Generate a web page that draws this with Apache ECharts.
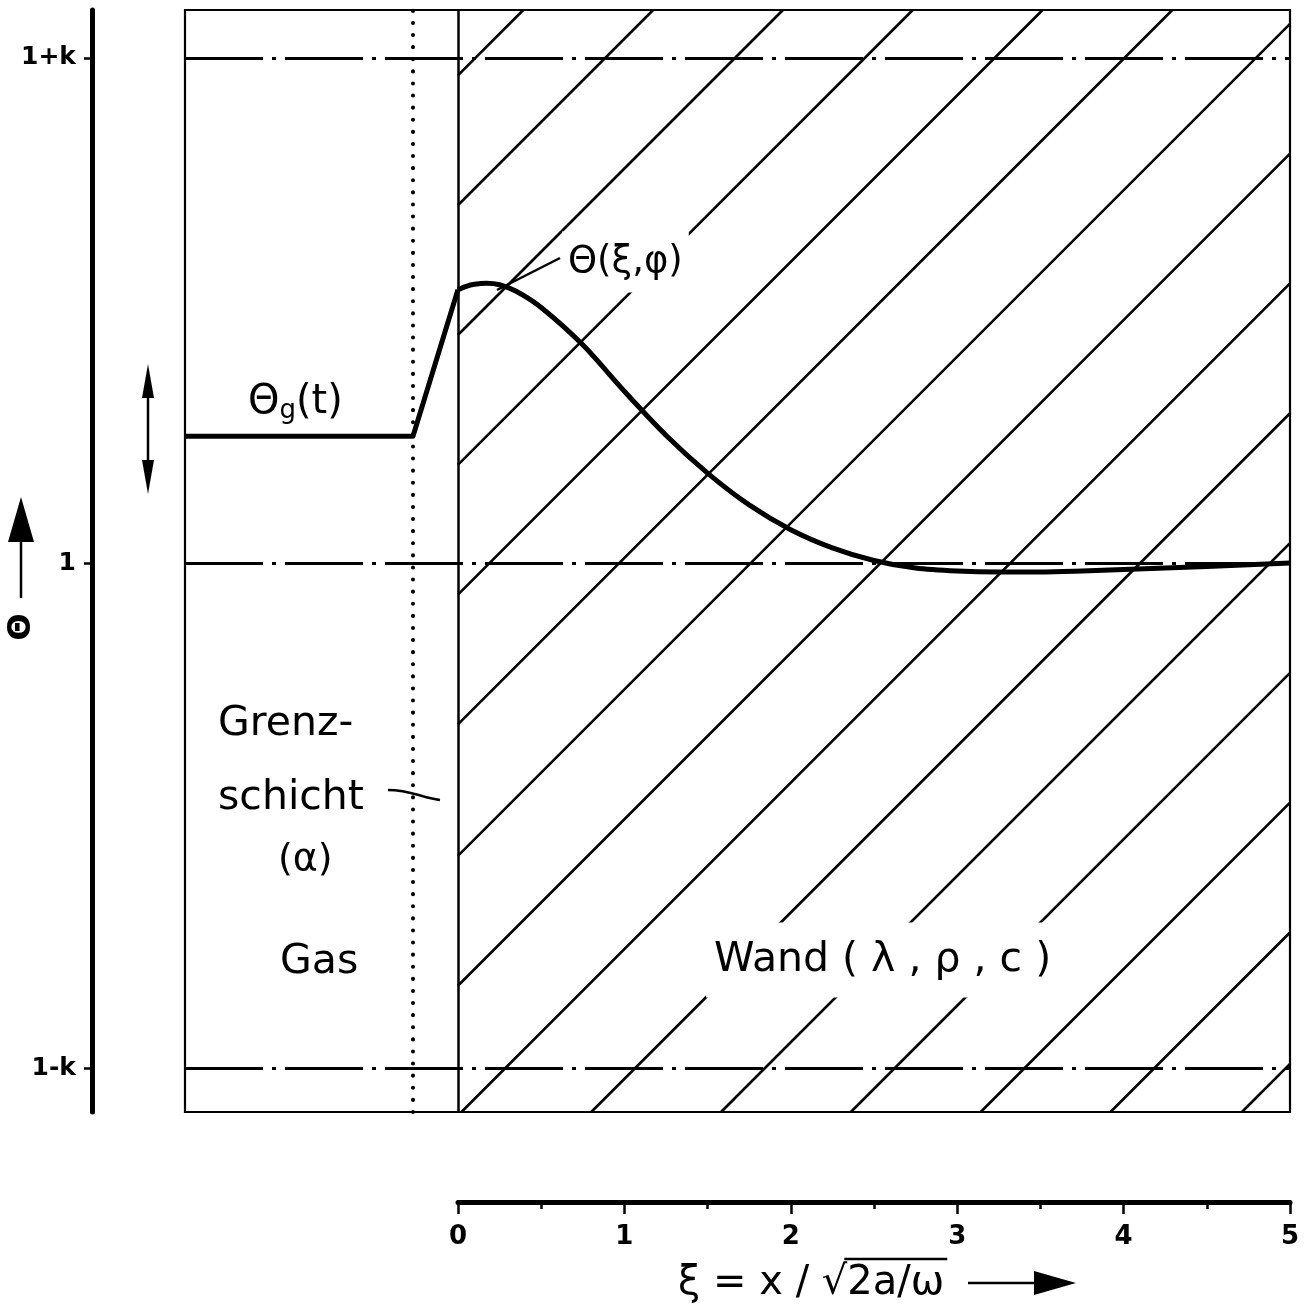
<!DOCTYPE html>
<html><head><meta charset="utf-8">
<script src="https://cdn.jsdelivr.net/npm/echarts@6/dist/echarts.min.js"></script>
<style>html,body{margin:0;padding:0;background:#fff}#c{width:1307px;height:1306px}</style>
</head><body><div id="c"></div>
<script>
// ---- data ----
const gasXi = [-1.64, -0.27, 0];
const gasTheta = [0.251, 0.251, 0.541];
const wallXi = [0, 0.05, 0.1, 0.17, 0.25, 0.35, 0.5, 0.75, 1.0, 1.25, 1.5, 1.75, 2.0, 2.25, 2.5, 2.75, 3.0, 3.25, 3.5, 3.75, 4.0, 4.5, 5.0];
const wallTheta = [0.541, 0.548, 0.552, 0.554, 0.551, 0.538, 0.506, 0.432, 0.340, 0.253, 0.178, 0.115, 0.066, 0.030, 0.005, -0.010, -0.016, -0.018, -0.018, -0.016, -0.013, -0.007, 0.0];
const refLevels = [1, 0, -1];
const refLabels = ['1+k', '1', '1-k'];
const xTickLabels = ['0', '1', '2', '3', '4', '5'];
const hatchCross = [-2.93, -2.15, -1.37, -0.59, 0.19, 0.97, 1.76, 2.54, 3.32, 4.10, 4.88, 5.66, 6.44, 7.22, 8.01];
const boundaryXi = -0.27;
const wallXi0 = 0;

const X_MIN = -1.64, X_MAX = 5, U_MIN = -1.087, U_MAX = 1.095;
const G = {left: 185, top: 10, width: 1105, height: 1102};
const S = (G.width / (X_MAX - X_MIN)) / (G.height / (U_MAX - U_MIN));
const hatchData = hatchCross.map(c => {
  const lo = Math.max(0, c + U_MIN / S), hi = Math.min(5, c + U_MAX / S);
  return lo < hi ? {coords: [[lo, S * (lo - c)], [hi, S * (hi - c)]]} : null;
}).filter(Boolean);

const FONT = '"DejaVu Sans", sans-serif';

// measure for the radical overline
const ctx = document.createElement('canvas').getContext('2d');
ctx.font = '40px ' + FONT;
const nameX0 = 678;
const wPre = ctx.measureText('ξ = x / √').width;
const wAll = ctx.measureText('ξ = x / √2a/ω').width;

const chart = echarts.init(document.getElementById('c'), null, {renderer: 'canvas'});
const black = '#000';
const option = {
  animation: false,
  backgroundColor: '#fff',
  grid: [
    Object.assign({show: true, borderColor: black, borderWidth: 2.2, backgroundColor: 'transparent'}, G),
    {left: 458, top: 1150, width: 832, height: 52, show: false}
  ],
  xAxis: [
    {gridIndex: 0, type: 'value', min: X_MIN, max: X_MAX, show: false},
    {gridIndex: 1, type: 'value', min: 0, max: 5, interval: 1, position: 'bottom',
     axisLine: {show: true, onZero: false, lineStyle: {color: black, width: 5, cap: 'round'}},
     axisTick: {show: true, length: 12, lineStyle: {color: black, width: 2.5}},
     minorTick: {show: true, splitNumber: 2, length: 7, lineStyle: {color: black, width: 2.5}},
     splitLine: {show: false}, minorSplitLine: {show: false},
     axisLabel: {color: black, fontFamily: FONT, fontWeight: 'bold', fontSize: 26, margin: 22,
                 formatter: v => xTickLabels[Math.round(v)]}}
  ],
  yAxis: [
    {gridIndex: 0, type: 'value', min: U_MIN, max: U_MAX, position: 'left', offset: 93,
     axisLine: {show: true, onZero: false, lineStyle: {color: black, width: 5, cap: 'round'}},
     axisTick: {show: true, customValues: refLevels, length: 8, lineStyle: {color: black, width: 2.5}},
     axisLabel: {show: true, customValues: refLevels, color: black, fontFamily: FONT, fontWeight: 'bold', fontSize: 25, margin: 16,
                 formatter: v => refLabels[refLevels.indexOf(v)]},
     splitLine: {show: false}},
    {gridIndex: 1, type: 'value', show: false, min: 0, max: 1}
  ],
  series: [
    {type: 'lines', coordinateSystem: 'cartesian2d', xAxisIndex: 0, yAxisIndex: 0, silent: true, z: 2,
     lineStyle: {color: black, width: 2.6, opacity: 1, curveness: 0}, data: hatchData},
    {type: 'line', xAxisIndex: 0, yAxisIndex: 0, z: 6, showSymbol: false, silent: true,
     lineStyle: {color: black, width: 5, join: 'round'},
     data: gasXi.map((x, i) => [x, gasTheta[i]]),
     markLine: {silent: true, symbol: ['none', 'none'], label: {show: false}, animation: false,
       data: refLevels.map(v => ({yAxis: v, lineStyle: {color: black, width: 3, type: [78, 9, 4, 9]}}))
         .concat([
           {xAxis: wallXi0, lineStyle: {color: black, width: 2.5, type: 'solid'}},
           {xAxis: boundaryXi, lineStyle: {color: black, width: 4, type: [0.1, 12], cap: 'round'}}
         ])}},
    {type: 'line', xAxisIndex: 0, yAxisIndex: 0, z: 6, showSymbol: false, silent: true, smooth: 0.3,
     lineStyle: {color: black, width: 5, join: 'round'},
     data: wallXi.map((x, i) => [x, wallTheta[i]])}
  ],
  graphic: [
    // labels
    {type: 'text', z: 100, style: {x: 248, y: 403, fill: black, verticalAlign: 'middle',
      text: '{a|Θ}{s|g}{a|(t)}',
      rich: {a: {fontFamily: FONT, fontSize: 40, fill: black}, s: {fontFamily: FONT, fontSize: 26, verticalAlign: 'bottom', padding: [16, 0, 0, 0]}}}},
    {type: 'text', z: 100, style: {x: 562, y: 262, text: 'Θ(ξ,φ)', font: '37px ' + FONT, fill: black,
      verticalAlign: 'middle', backgroundColor: '#fff', padding: [12, 6, 12, 6]}},
    {type: 'line', z: 100, shape: {x1: 497, y1: 290, x2: 560, y2: 258}, style: {stroke: black, lineWidth: 2.5}},
    {type: 'text', z: 100, style: {x: 218, y: 724, text: 'Grenz-', font: '41px ' + FONT, fill: black, verticalAlign: 'middle'}},
    {type: 'text', z: 100, style: {x: 218, y: 798, text: 'schicht', font: '41px ' + FONT, fill: black, verticalAlign: 'middle'}},
    {type: 'text', z: 100, style: {x: 278, y: 860, text: '(α)', font: '38px ' + FONT, fill: black, verticalAlign: 'middle'}},
    {type: 'bezierCurve', z: 100, shape: {x1: 388, y1: 790, x2: 440, y2: 800, cpx1: 410, cpy1: 790, cpx2: 420, cpy2: 797},
      style: {stroke: black, lineWidth: 2.5, fill: null}},
    {type: 'text', z: 100, style: {x: 280, y: 962, text: 'Gas', font: '41px ' + FONT, fill: black, verticalAlign: 'middle'}},
    {type: 'text', z: 100, style: {x: 706, y: 960, text: 'Wand ( λ , ρ , c )', font: '41px ' + FONT, fill: black,
      verticalAlign: 'middle', backgroundColor: '#fff', padding: [18, 8, 16, 8]}},
    // double arrow (amplitude)
    {type: 'line', z: 100, shape: {x1: 148, y1: 385, x2: 148, y2: 475}, style: {stroke: black, lineWidth: 2.5}},
    {type: 'polygon', z: 100, shape: {points: [[148, 364], [142, 398], [154, 398]]}, style: {fill: black}},
    {type: 'polygon', z: 100, shape: {points: [[148, 494], [142, 460], [154, 460]]}, style: {fill: black}},
    // y axis name
    {type: 'text', z: 100, rotation: Math.PI / 2, x: 22, y: 627, style: {x: 0, y: 0, text: 'Θ', font: 'bold 32px ' + FONT,
      fill: black, align: 'center', verticalAlign: 'middle'}},
    {type: 'line', z: 100, shape: {x1: 21, y1: 598, x2: 21, y2: 530}, style: {stroke: black, lineWidth: 2.5}},
    {type: 'polygon', z: 100, shape: {points: [[21, 497], [8, 542], [34, 542]]}, style: {fill: black}},
    // x axis name
    {type: 'text', z: 100, style: {x: nameX0, y: 1284, text: 'ξ = x / √2a/ω', font: '40px ' + FONT, fill: black, verticalAlign: 'middle'}},
    {type: 'line', z: 100, shape: {x1: nameX0 + wPre - 3, y1: 1259, x2: nameX0 + wAll + 3, y2: 1259}, style: {stroke: black, lineWidth: 2.5}},
    {type: 'line', z: 100, shape: {x1: 968, y1: 1283, x2: 1040, y2: 1283}, style: {stroke: black, lineWidth: 2.5}},
    {type: 'polygon', z: 100, shape: {points: [[1076, 1283], [1034, 1271], [1034, 1295]]}, style: {fill: black}}
  ]
};
chart.setOption(option);
</script>
</body></html>
